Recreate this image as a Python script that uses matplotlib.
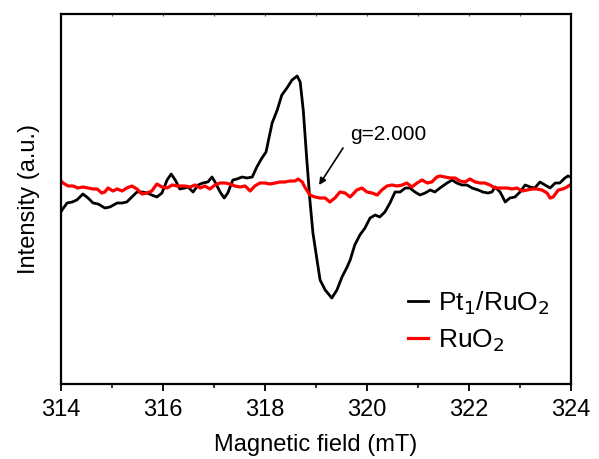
import matplotlib
matplotlib.use("Agg")
import matplotlib.pyplot as plt
from matplotlib.ticker import MultipleLocator

plt.rcParams['font.family'] = ['Liberation Sans', 'DejaVu Sans']

# EPR spectra: magnetic field (mT) vs. intensity (arbitrary units)
field_pt = [314.00, 314.02, 314.12, 314.22, 314.31, 314.43, 314.53, 314.63, 314.73, 314.86,
            314.96, 315.10, 315.20, 315.29, 315.39, 315.49, 315.59, 315.69, 315.78, 315.88,
            315.98, 316.08, 316.16, 316.24, 316.33, 316.43, 316.49, 316.59, 316.69, 316.78,
            316.88, 316.96, 317.02, 317.12, 317.20, 317.27, 317.37, 317.45, 317.55, 317.65,
            317.75, 317.84, 317.94, 318.02, 318.14, 318.24, 318.33, 318.43, 318.53, 318.63,
            318.69, 318.75, 318.82, 318.88, 318.94, 319.02, 319.08, 319.18, 319.31, 319.41,
            319.51, 319.61, 319.67, 319.76, 319.86, 319.96, 320.06, 320.16, 320.25, 320.35,
            320.45, 320.55, 320.65, 320.75, 320.84, 320.94, 321.04, 321.14, 321.24, 321.33,
            321.43, 321.57, 321.67, 321.76, 321.86, 321.96, 322.06, 322.18, 322.27, 322.37,
            322.45, 322.51, 322.61, 322.71, 322.80, 322.90, 323.00, 323.10, 323.20, 323.29,
            323.39, 323.49, 323.59, 323.69, 323.78, 323.88, 323.94, 324.00]
signal_pt = [-25, -23, -16, -15, -13, -7, -11, -16, -17, -21,
             -20, -16, -16, -15, -10, -5, -5, -6, -8, -10,
             -6, 7, 13, 7, -2, -1, 0, -5, 2, 4,
             5, 10, 5, -5, -11, -6, 7, 8, 10, 9,
             10, 20, 29, 35, 64, 77, 92, 99, 107, 111,
             105, 77, 27, -13, -46, -73, -93, -103, -111, -103,
             -90, -80, -73, -58, -48, -41, -31, -28, -30, -25,
             -16, -5, -5, -1, -1, -5, -8, -6, -3, -5,
             -1, 4, 7, 4, 2, 2, -1, -3, -5, -6,
             -5, 0, -5, -15, -11, -10, -5, 2, 0, -1,
             5, 2, -1, 4, 4, 9, 11, 10]

field_ru = [314.00, 314.04, 314.14, 314.24, 314.33, 314.43, 314.53, 314.63, 314.71, 314.80,
            314.86, 314.92, 315.02, 315.10, 315.20, 315.29, 315.39, 315.49, 315.59, 315.69,
            315.78, 315.88, 315.98, 316.08, 316.18, 316.29, 316.43, 316.53, 316.63, 316.73,
            316.82, 316.92, 317.02, 317.12, 317.22, 317.31, 317.41, 317.51, 317.61, 317.71,
            317.80, 317.90, 318.00, 318.10, 318.20, 318.29, 318.39, 318.49, 318.59, 318.65,
            318.73, 318.78, 318.88, 318.98, 319.08, 319.18, 319.27, 319.37, 319.47, 319.57,
            319.67, 319.80, 319.90, 320.00, 320.10, 320.20, 320.29, 320.39, 320.49, 320.59,
            320.69, 320.78, 320.88, 320.98, 321.08, 321.18, 321.27, 321.37, 321.43, 321.53,
            321.63, 321.73, 321.82, 321.92, 322.02, 322.12, 322.22, 322.31, 322.41, 322.51,
            322.65, 322.75, 322.84, 322.94, 323.04, 323.14, 323.24, 323.33, 323.43, 323.53,
            323.59, 323.65, 323.75, 323.84, 323.92, 323.98]
signal_ru = [6, 4, 1, 1, -1, 0, -1, -2, -2, -6,
             -5, -1, -4, -2, -4, -1, 1, -2, -7, -6,
             -4, 3, 0, -1, 2, 1, 1, 0, 2, -1,
             1, -2, 2, 4, 4, 3, 1, 0, 1, -4,
             1, 4, 4, 3, 4, 5, 5, 6, 6, 8,
             5, 0, -8, -10, -11, -11, -15, -11, -5, -6,
             -10, -3, -1, -5, -6, -8, -3, 1, 2, 1,
             2, 4, 0, 4, 7, 4, 5, 10, 11, 10,
             9, 9, 6, 5, 8, 5, 4, 4, 2, -1,
             -1, -1, -2, -1, -4, -3, -2, -2, -3, -6,
             -11, -10, -3, -2, 0, 2]

x_ticks = [314, 316, 318, 320, 322, 324]
series_labels = ['Pt$_1$/RuO$_2$', 'RuO$_2$']
g_label = 'g=2.000'
g_arrow_tip = (319.06, 2)
g_arrow_tail = (319.53, 39)
g_text_pos = (319.67, 52)

fig = plt.figure(figsize=(5.99, 4.59), dpi=100)
ax = fig.add_axes([0.1018, 0.1634, 0.8515, 0.8061])

ax.plot(field_pt, signal_pt, color='black', lw=2.0, label=series_labels[0],
        solid_joinstyle='round')
ax.plot(field_ru, signal_ru, color='#ff0000', lw=2.3, label=series_labels[1],
        solid_joinstyle='round')

ax.set_xlim(314, 324)
ax.set_ylim(-197, 173)
ax.set_xticks(x_ticks)
ax.xaxis.set_minor_locator(MultipleLocator(1))
ax.set_yticks([])

for s in ax.spines.values():
    s.set_linewidth(1.6)

ax.tick_params(axis='x', which='major', direction='out', length=5, width=1.3,
               labelsize=17, pad=6)
ax.tick_params(axis='x', which='minor', direction='out', length=3, width=1.1)

# faint inward ticks along the top edge
top = ax.secondary_xaxis('top')
top.set_xticks(x_ticks)
top.xaxis.set_minor_locator(MultipleLocator(1))
top.tick_params(which='both', direction='in', length=1.2, width=0.8,
                labeltop=False, color='#555555')
top.spines['top'].set_visible(False)

ax.set_xlabel('Magnetic field (mT)', fontsize=17, labelpad=9)
ax.set_ylabel('Intensity (a.u.)', fontsize=17, labelpad=15)

ax.annotate('', xy=g_arrow_tip, xytext=g_arrow_tail,
            arrowprops=dict(arrowstyle='-|>', color='black', lw=1.2,
                            mutation_scale=10, shrinkA=0, shrinkB=0))
ax.text(g_text_pos[0], g_text_pos[1], g_label, fontsize=15, ha='left', va='center')

leg = ax.legend(loc='upper left', bbox_to_anchor=(0.68, 0.255), frameon=False,
                fontsize=19, handlelength=0.75, handletextpad=0.4,
                labelspacing=0.38, borderpad=0, borderaxespad=0)

fig.savefig('out.png', dpi=100)
